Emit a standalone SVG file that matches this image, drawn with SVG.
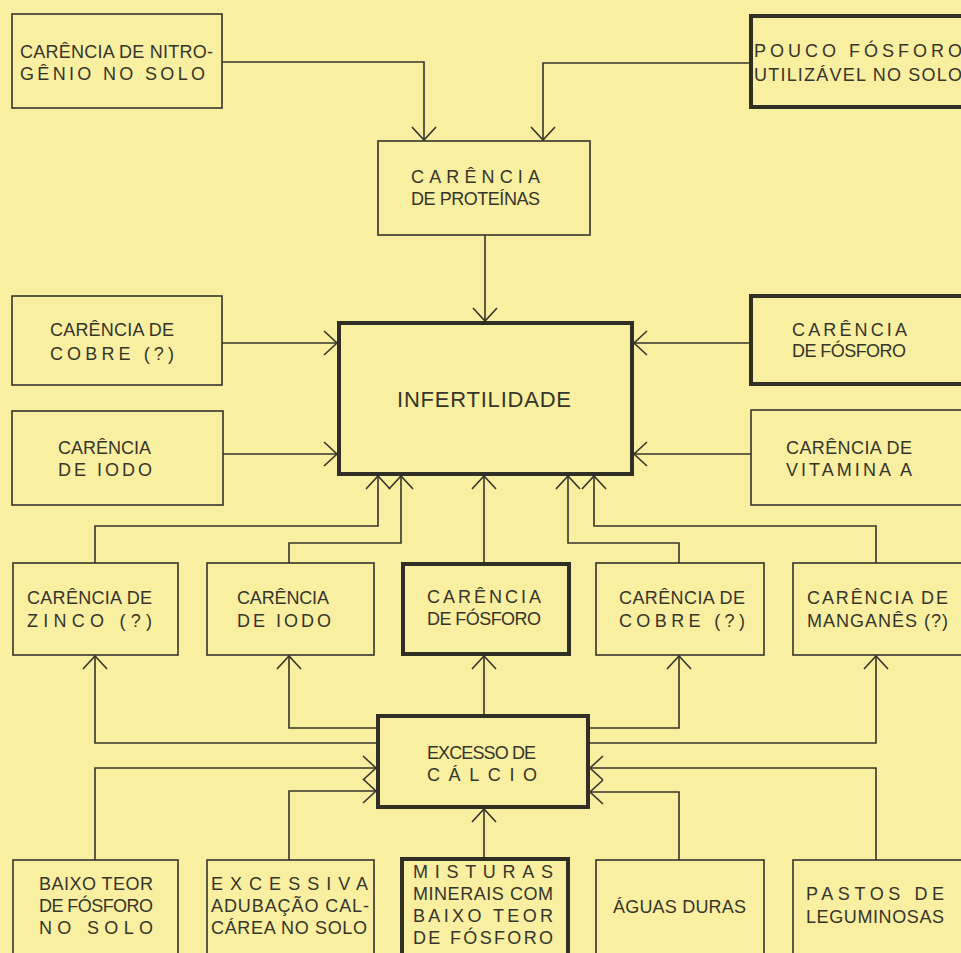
<svg xmlns="http://www.w3.org/2000/svg" width="961" height="953" viewBox="0 0 961 953">
<defs>
<marker id="arr" viewBox="-16 -15 18 30" markerWidth="18" markerHeight="30" refX="0" refY="0" orient="auto" markerUnits="userSpaceOnUse">
<path d="M-13,-12 L0,0 L-13,12" fill="none" stroke="#35352b" stroke-width="1.6"/>
</marker>
</defs>
<style>
.bx{fill:none;stroke:#35352b;stroke-width:1.6}
.bk{fill:none;stroke:#2f2f26;stroke-width:4}
.t{font-family:"Liberation Sans",Arial,sans-serif;font-size:18px;fill:#35352b}
.c{fill:none;stroke:#35352b;stroke-width:1.6;marker-end:url(#arr)}
</style>
<rect x="0" y="0" width="961" height="953" fill="#F9EFA1"/>
<g id="connectors">
<path class="c" d="M222 62 H424 V140"/>
<path class="c" d="M751 63 H543 V140"/>
<path class="c" d="M485 235 V321"/>
<path class="c" d="M222 343 H337"/>
<path class="c" d="M223 454 H337"/>
<path class="c" d="M751 343 H634"/>
<path class="c" d="M751 454 H634"/>
<path class="c" d="M95 563 V526 H378 V476"/>
<path class="c" d="M289 563 V543 H401 V476"/>
<path class="c" d="M484 562 V476"/>
<path class="c" d="M679 563 V543 H568 V476"/>
<path class="c" d="M876 563 V526 H594 V476"/>
<path class="c" d="M378 743 H95 V656"/>
<path class="c" d="M378 728 H289 V656"/>
<path class="c" d="M484 714 V656"/>
<path class="c" d="M588 728 H679 V656"/>
<path class="c" d="M588 743 H876 V656"/>
<path class="c" d="M95 860 V768 H376"/>
<path class="c" d="M289 860 V791 H376"/>
<path class="c" d="M484 857 V809"/>
<path class="c" d="M679 860 V792 H590"/>
<path class="c" d="M876 860 V768 H590"/>
</g>
<g id="n-nitrogenio">
<rect class="bx" x="12" y="14" width="210" height="94"/>
<text class="t" x="20" y="58" textLength="193" lengthAdjust="spacing">CARÊNCIA DE NITRO-</text>
<text class="t" x="20" y="80" textLength="185" lengthAdjust="spacing">GÊNIO NO SOLO</text>
</g>
<g id="n-proteinas">
<rect class="bx" x="378" y="141" width="212" height="94"/>
<text class="t" x="411" y="183" textLength="129" lengthAdjust="spacing">CARÊNCIA</text>
<text class="t" x="411" y="205" textLength="129" lengthAdjust="spacing">DE PROTEÍNAS</text>
</g>
<g id="n-pouco-fosforo">
<rect class="bk" x="751" y="16" width="215" height="91"/>
<text class="t" x="754" y="57" textLength="208" lengthAdjust="spacing">POUCO FÓSFORO</text>
<text class="t" x="754" y="81" textLength="208" lengthAdjust="spacing">UTILIZÁVEL NO SOLO</text>
</g>
<g id="n-infertilidade">
<rect class="bk" x="339" y="323" width="293" height="151"/>
<text class="t" x="397" y="407" style="font-size:22px" textLength="174" lengthAdjust="spacing">INFERTILIDADE</text>
</g>
<g id="n-cobre-l">
<rect class="bx" x="12" y="296" width="210" height="89"/>
<text class="t" x="50" y="336" textLength="124" lengthAdjust="spacing">CARÊNCIA DE</text>
<text class="t" x="50" y="360" textLength="124" lengthAdjust="spacing">COBRE (?)</text>
</g>
<g id="n-iodo-l">
<rect class="bx" x="12" y="411" width="211" height="94"/>
<text class="t" x="58" y="454" textLength="93" lengthAdjust="spacing">CARÊNCIA</text>
<text class="t" x="58" y="476" textLength="94" lengthAdjust="spacing">DE IODO</text>
</g>
<g id="n-fosforo-r">
<rect class="bk" x="751" y="296" width="215" height="88"/>
<text class="t" x="792" y="336" textLength="115" lengthAdjust="spacing">CARÊNCIA</text>
<text class="t" x="792" y="357" textLength="114" lengthAdjust="spacing">DE FÓSFORO</text>
</g>
<g id="n-vitamina-a">
<rect class="bx" x="751" y="410" width="215" height="95"/>
<text class="t" x="786" y="454" textLength="126" lengthAdjust="spacing">CARÊNCIA DE</text>
<text class="t" x="786" y="476" textLength="126" lengthAdjust="spacing">VITAMINA  A</text>
</g>
<g id="n-zinco">
<rect class="bx" x="13" y="563" width="165" height="92"/>
<text class="t" x="27" y="604" textLength="125" lengthAdjust="spacing">CARÊNCIA DE</text>
<text class="t" x="27" y="627" textLength="125" lengthAdjust="spacing">ZINCO (?)</text>
</g>
<g id="n-iodo-m">
<rect class="bx" x="207" y="563" width="167" height="92"/>
<text class="t" x="237" y="604" textLength="92" lengthAdjust="spacing">CARÊNCIA</text>
<text class="t" x="237" y="627" textLength="94" lengthAdjust="spacing">DE IODO</text>
</g>
<g id="n-fosforo-m">
<rect class="bk" x="403" y="564" width="166" height="90"/>
<text class="t" x="427" y="603" textLength="114" lengthAdjust="spacing">CARÊNCIA</text>
<text class="t" x="427" y="625" textLength="114" lengthAdjust="spacing">DE FÓSFORO</text>
</g>
<g id="n-cobre-m">
<rect class="bx" x="596" y="563" width="168" height="92"/>
<text class="t" x="619" y="604" textLength="126" lengthAdjust="spacing">CARÊNCIA DE</text>
<text class="t" x="619" y="627" textLength="126" lengthAdjust="spacing">COBRE (?)</text>
</g>
<g id="n-manganes">
<rect class="bx" x="793" y="563" width="173" height="92"/>
<text class="t" x="807" y="604" textLength="141" lengthAdjust="spacing">CARÊNCIA DE</text>
<text class="t" x="807" y="627" textLength="141" lengthAdjust="spacing">MANGANÊS (?)</text>
</g>
<g id="n-excesso-calcio">
<rect class="bk" x="378" y="716" width="210" height="91"/>
<text class="t" x="427" y="759" textLength="109" lengthAdjust="spacing">EXCESSO DE</text>
<text class="t" x="427" y="781" textLength="110" lengthAdjust="spacing">CÁLCIO</text>
</g>
<g id="n-baixo-teor">
<rect class="bx" x="13" y="860" width="165" height="100"/>
<text class="t" x="39" y="890" textLength="114" lengthAdjust="spacing">BAIXO TEOR</text>
<text class="t" x="39" y="912" textLength="114" lengthAdjust="spacing">DE FÓSFORO</text>
<text class="t" x="39" y="934" textLength="114" lengthAdjust="spacing">NO SOLO</text>
</g>
<g id="n-excessiva">
<rect class="bx" x="207" y="860" width="167" height="100"/>
<text class="t" x="211" y="890" textLength="157" lengthAdjust="spacing">EXCESSIVA</text>
<text class="t" x="211" y="912" textLength="158" lengthAdjust="spacing">ADUBAÇÃO CAL-</text>
<text class="t" x="211" y="934" textLength="156" lengthAdjust="spacing">CÁREA NO SOLO</text>
</g>
<g id="n-misturas">
<rect class="bk" x="402" y="859" width="166" height="101"/>
<text class="t" x="413" y="878" textLength="140" lengthAdjust="spacing">MISTURAS</text>
<text class="t" x="413" y="900" textLength="140" lengthAdjust="spacing">MINERAIS COM</text>
<text class="t" x="413" y="922" textLength="140" lengthAdjust="spacing">BAIXO TEOR</text>
<text class="t" x="413" y="944" textLength="140" lengthAdjust="spacing">DE FÓSFORO</text>
</g>
<g id="n-aguas-duras">
<rect class="bx" x="596" y="860" width="168" height="100"/>
<text class="t" x="613" y="913" textLength="133" lengthAdjust="spacing">ÁGUAS DURAS</text>
</g>
<g id="n-pastos">
<rect class="bx" x="793" y="860" width="173" height="100"/>
<text class="t" x="806" y="900" textLength="138" lengthAdjust="spacing">PASTOS DE</text>
<text class="t" x="806" y="923" textLength="138" lengthAdjust="spacing">LEGUMINOSAS</text>
</g>
</svg>
